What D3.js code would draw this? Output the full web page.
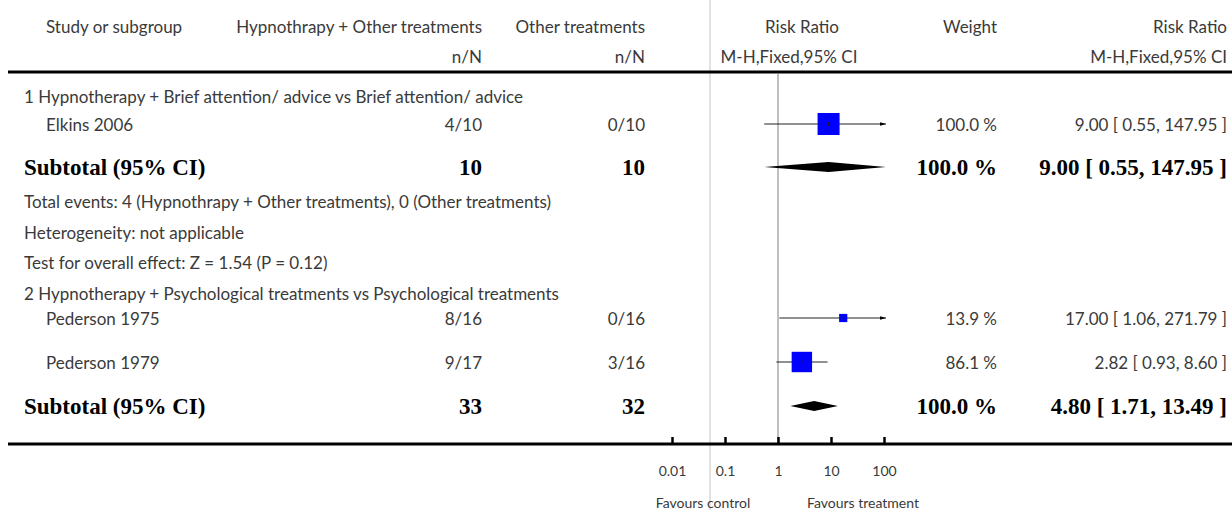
<!DOCTYPE html>
<html>
<head>
<meta charset="utf-8">
<script src="https://cdn.jsdelivr.net/npm/d3@7"></script>
<style>
  body { margin: 0; background: #fff; }
  text { font-family: Lato, "Open Sans", sans-serif; }
</style>
</head>
<body>
<div id="chart"></div>
<script>
// studies
const studyNames = ['Elkins 2006', 'Pederson 1975', 'Pederson 1979'];
const studyGroup = [0, 1, 1];
const treatN = ['4/10', '8/16', '9/17'];
const controlN = ['0/10', '0/16', '3/16'];
const weights = [100.0, 13.9, 86.1];
const rr = [9.00, 17.00, 2.82];
const rrLo = [0.55, 1.06, 0.93];
const rrHi = [147.95, 271.79, 8.60];

// subgroups
const groupTitles = [
    '1 Hypnotherapy + Brief attention/ advice vs Brief attention/ advice',
    '2 Hypnotherapy + Psychological treatments vs Psychological treatments'
];
const subTreatTotal = [10, 33];
const subControlTotal = [10, 32];
const subRR = [9.00, 4.80];
const subLo = [0.55, 1.71];
const subHi = [147.95, 13.49];
const groupNotes = [
    ['Total events: 4 (Hypnothrapy + Other treatments), 0 (Other treatments)',
     'Heterogeneity: not applicable',
     'Test for overall effect: Z = 1.54 (P = 0.12)'],
    []
];

const tickValues = [0.01, 0.1, 1, 10, 100];
const tickLabels = ['0.01', '0.1', '1', '10', '100'];

const width = 1232, height = 510;
const textColor = '#3a3a3a';
const fs = '17px';

const svg = d3.select('#chart').append('svg')
    .attr('width', width)
    .attr('height', height);

const x = d3.scaleLog().domain([0.01, 100]).range([672, 884]).clamp(true);
const boxSize = d3.scaleSqrt().domain([0, 100]).range([0, 22]);

const fmt = d3.format('.2f');
const ciText = (p, l, h) => `${fmt(p)} [ ${fmt(l)}, ${fmt(h)} ]`;

// light vertical guide through the whole picture
svg.append('line')
    .attr('x1', 710).attr('x2', 710)
    .attr('y1', 0).attr('y2', height)
    .attr('stroke', '#e2e2e2').attr('stroke-width', 2);

// headers
const header = svg.append('g').attr('fill', textColor).style('font-size', fs);
function htext(str, xx, yy, anchor) {
    header.append('text').attr('x', xx).attr('y', yy)
        .attr('text-anchor', anchor).attr('dominant-baseline', 'central')
        .attr('fill', textColor).text(str);
}
htext('Study or subgroup', 46, 26, 'start');
htext('Hypnothrapy + Other treatments', 482, 26, 'end');
htext('n/N', 482, 56, 'end');
htext('Other treatments', 645, 26, 'end');
htext('n/N', 645, 56, 'end');
htext('Risk Ratio', 802, 26, 'middle');
htext('M-H,Fixed,95% CI', 789, 56, 'middle');
htext('Weight', 997, 26, 'end');
htext('Risk Ratio', 1227, 26, 'end');
htext('M-H,Fixed,95% CI', 1227, 56, 'end');

// top rule
svg.append('line').attr('x1', 8).attr('x2', width).attr('y1', 72).attr('y2', 72)
    .attr('stroke', '#000').attr('stroke-width', 3);

// null line
svg.append('line')
    .attr('x1', x(1)).attr('x2', x(1))
    .attr('y1', 74).attr('y2', 444)
    .attr('stroke', '#aaa').attr('stroke-width', 1.5);

svg.append('defs').append('marker')
    .attr('id', 'arrow')
    .attr('viewBox', '0 0 10 10')
    .attr('refX', 10).attr('refY', 5)
    .attr('markerWidth', 6).attr('markerHeight', 6)
    .attr('orient', 'auto')
    .append('path').attr('d', 'M0,2 L10,5 L0,8 Z').attr('fill', '#000');

const body = svg.append('g');

function plainText(str, xx, yy, anchor) {
    body.append('text').attr('x', xx).attr('y', yy)
        .attr('text-anchor', anchor).attr('dominant-baseline', 'central')
        .attr('fill', textColor).style('font-size', fs).text(str);
}
function boldText(str, xx, yy, anchor) {
    body.append('text').attr('x', xx).attr('y', yy)
        .attr('text-anchor', anchor).attr('dominant-baseline', 'central')
        .attr('fill', '#000')
        .style('font-family', '"Liberation Serif", "DejaVu Serif", serif')
        .style('font-weight', 'bold').style('font-size', '23px').text(str);
}

function drawStudy(i, y) {
    plainText(studyNames[i], 46, y, 'start');
    plainText(treatN[i], 482, y, 'end');
    plainText(controlN[i], 645, y, 'end');
    plainText(d3.format('.1f')(weights[i]) + ' %', 997, y, 'end');
    plainText(ciText(rr[i], rrLo[i], rrHi[i]), 1227, y, 'end');
    const x1 = x(rrLo[i]), x2 = x(rrHi[i]);
    const over = rrHi[i] > 100;
    body.append('line')
        .attr('x1', x1).attr('x2', over ? x2 + 2 : x2)
        .attr('y1', y).attr('y2', y)
        .attr('stroke', '#222').attr('stroke-width', 1)
        .attr('marker-end', over ? 'url(#arrow)' : null);
    const s = boxSize(weights[i]);
    body.append('rect')
        .attr('x', x(rr[i]) - s / 2).attr('y', y - s / 2)
        .attr('width', s).attr('height', s)
        .attr('fill', '#0000ff');
    body.append('line')
        .attr('x1', x(rr[i])).attr('x2', x(rr[i]))
        .attr('y1', y - 2).attr('y2', y + 2)
        .attr('stroke', '#222').attr('stroke-width', 1);
}

function drawSubtotal(g, y) {
    boldText('Subtotal (95% CI)', 24, y, 'start');
    boldText(subTreatTotal[g], 482, y, 'end');
    boldText(subControlTotal[g], 645, y, 'end');
    boldText('100.0 %', 997, y, 'end');
    boldText(ciText(subRR[g], subLo[g], subHi[g]), 1227, y, 'end');
    const xl = x(subLo[g]), xr = subHi[g] > 100 ? x(100) + 2 : x(subHi[g]), xc = x(subRR[g]);
    body.append('path')
        .attr('d', `M${xl},${y} L${xc},${y - 5} L${xr},${y} L${xc},${y + 5} Z`)
        .attr('fill', '#000');
}

// row layout
const groupLayout = [
    { title: 96, studies: [124], subtotal: 167, notes: [201, 232, 262] },
    { title: 293, studies: [318, 362], subtotal: 406, notes: [] }
];

groupLayout.forEach((lay, g) => {
    plainText(groupTitles[g], 24, lay.title, 'start');
    const idx = studyGroup.map((gg, i) => gg === g ? i : -1).filter(i => i >= 0);
    idx.forEach((i, k) => drawStudy(i, lay.studies[k]));
    drawSubtotal(g, lay.subtotal);
    groupNotes[g].forEach((n, k) => plainText(n, 24, lay.notes[k], 'start'));
});

// bottom rule + axis
svg.append('line').attr('x1', 8).attr('x2', width).attr('y1', 444).attr('y2', 444)
    .attr('stroke', '#000').attr('stroke-width', 3);

const axis = d3.axisBottom(x)
    .tickValues(tickValues)
    .tickFormat((d, i) => tickLabels[i])
    .tickSize(-7)
    .tickPadding(22);

const ax = svg.append('g').attr('transform', 'translate(0,444)').call(axis);
ax.select('.domain').remove();
ax.selectAll('.tick line').attr('stroke', '#000').attr('stroke-width', 2.5);
ax.selectAll('.tick text')
    .attr('fill', textColor)
    .style('font-family', 'Lato, sans-serif')
    .style('font-size', '14px');

svg.append('text').attr('x', 703).attr('y', 502)
    .attr('text-anchor', 'middle').attr('dominant-baseline', 'central')
    .attr('fill', textColor).style('font-size', '14px').text('Favours control');
svg.append('text').attr('x', 863).attr('y', 502)
    .attr('text-anchor', 'middle').attr('dominant-baseline', 'central')
    .attr('fill', textColor).style('font-size', '14px').text('Favours treatment');
</script>
</body>
</html>
